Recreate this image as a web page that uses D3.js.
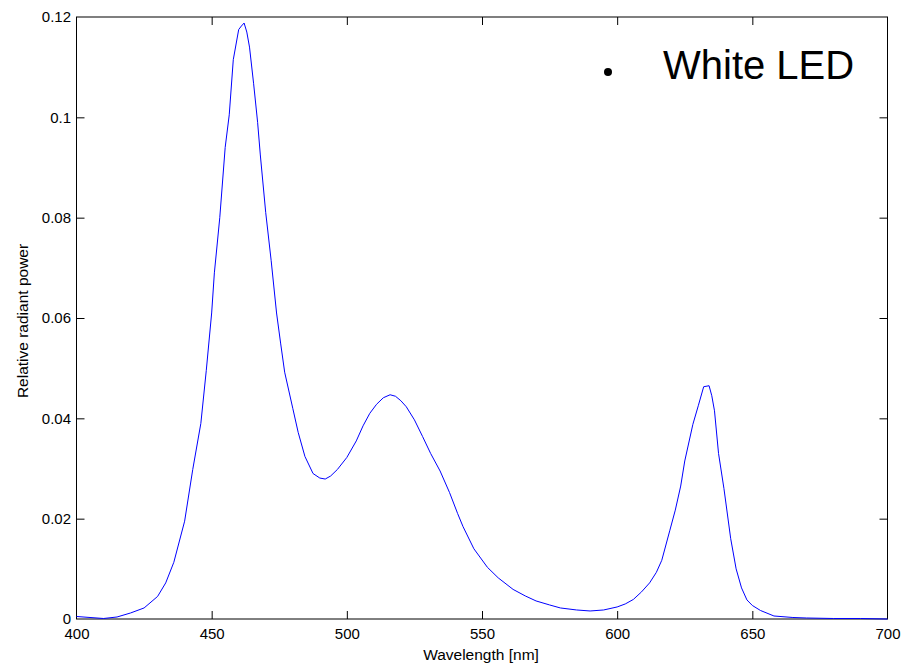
<!DOCTYPE html>
<html>
<head>
<meta charset="utf-8">
<script src="https://cdn.jsdelivr.net/npm/d3@7"></script>
<style>
html,body{margin:0;padding:0;background:#fff;}
svg{display:block;}
text{font-family:"Liberation Sans",Arial,Helvetica,sans-serif;}
</style>
</head>
<body>
<script>
const wavelengths = [400,405,410,415,420,425,430,433,436,440,443,446,448,450,451,453,455,456.5,458,460,461,462,463,464,465.5,467,468,470,472,474,475.5,477,480,482,484.5,487.5,490,492,494,496.5,500,503.5,506,508.5,511,513.5,516,518,520,522,525,528,531,534.5,538,541,543,547,552,556,561.5,566,570,575,579,585,590,595,600,603,606,609,612,614.5,616.5,619.5,621.5,623.5,625,628,630,632,634,635,636,637.5,639.5,642,644,646,648,650,653,658,665,670,680,690,700];
const power = [0.0005,0.0003,0.0001,0.0004,0.0012,0.0022,0.0045,0.0072,0.0113,0.0195,0.0298,0.0390,0.0495,0.0610,0.0690,0.0800,0.0940,0.1005,0.1115,0.1175,0.1182,0.1188,0.1170,0.1140,0.1068,0.0990,0.0925,0.0810,0.0715,0.0610,0.0550,0.0492,0.0420,0.0372,0.0324,0.0290,0.0281,0.0279,0.0285,0.0298,0.0322,0.0355,0.0385,0.0410,0.0428,0.0441,0.0447,0.0444,0.0435,0.0423,0.0397,0.0364,0.0330,0.0295,0.0252,0.0210,0.0184,0.0140,0.0103,0.0082,0.0059,0.0046,0.0036,0.0028,0.0022,0.0018,0.0016,0.0018,0.0024,0.0030,0.0039,0.0054,0.0072,0.0093,0.0117,0.0177,0.0217,0.0265,0.0315,0.0388,0.0425,0.0463,0.0465,0.0445,0.0415,0.0330,0.0260,0.0160,0.0100,0.0062,0.0038,0.0027,0.0017,0.0006,0.0003,0.0002,0.0001,0.0001,0.0000];
const xTicks = [400,450,500,550,600,650,700];
const yTicks = [0,0.02,0.04,0.06,0.08,0.1,0.12];
const yTickLabels = ["0","0.02","0.04","0.06","0.08","0.1","0.12"];
const legendLabel = "White LED";
const xTitle = "Wavelength [nm]";
const yTitle = "Relative radiant power";

const W = 917, H = 667;
const m = {left:76.5, right:887.5, top:17, bottom:619};
const svg = d3.select("body").append("svg").attr("width",W).attr("height",H);

const x = d3.scaleLinear().domain([400,700]).range([m.left,m.right]);
const y = d3.scaleLinear().domain([0,0.12]).range([m.bottom,m.top]);

// plot box
svg.append("rect").attr("x",m.left).attr("y",m.top)
  .attr("width",m.right-m.left).attr("height",m.bottom-m.top)
  .attr("fill","none").attr("stroke","#000").attr("stroke-width",1);

const tl = 8;
const fmtY = d => yTickLabels[yTicks.indexOf(d)];

const gB = svg.append("g").attr("transform",`translate(0,${m.bottom})`)
  .call(d3.axisBottom(x).tickValues(xTicks).tickSizeInner(-tl).tickSizeOuter(0).tickPadding(9).tickFormat(d3.format("d")));
const gT = svg.append("g").attr("transform",`translate(0,${m.top})`)
  .call(d3.axisTop(x).tickValues(xTicks).tickSizeInner(-tl).tickSizeOuter(0).tickFormat(""));
const gL = svg.append("g").attr("transform",`translate(${m.left},0)`)
  .call(d3.axisLeft(y).tickValues(yTicks).tickSizeInner(-tl).tickSizeOuter(0).tickPadding(5.5).tickFormat(fmtY));
const gR = svg.append("g").attr("transform",`translate(${m.right},0)`)
  .call(d3.axisRight(y).tickValues(yTicks).tickSizeInner(-tl).tickSizeOuter(0).tickFormat(""));

[gB,gT,gL,gR].forEach(g=>{
  g.select(".domain").remove();
  g.selectAll(".tick line").attr("stroke","#000");
  g.selectAll("text").attr("font-size",15).attr("fill","#000")
   .style("font-family",'"Liberation Sans",Arial,sans-serif');
});
gB.selectAll(".tick").filter(d=>d===400||d===700).select("line").remove();
gT.selectAll(".tick").filter(d=>d===400||d===700).select("line").remove();
gL.selectAll(".tick").filter(d=>d===0||d===0.12).select("line").remove();
gR.selectAll(".tick").filter(d=>d===0||d===0.12).select("line").remove();

const data = wavelengths.map((w,i)=>({w, v:power[i]}));
svg.append("path").datum(data)
  .attr("fill","none").attr("stroke","#0000ff").attr("stroke-width",1)
  .attr("d", d3.line().x(d=>x(d.w)).y(d=>y(d.v)));

svg.append("text").attr("x",481).attr("y",660)
  .attr("text-anchor","middle").attr("font-size",15.5).text(xTitle);
svg.append("text").attr("transform",`translate(28,${(m.top+m.bottom)/2+3}) rotate(-90)`)
  .attr("text-anchor","middle").attr("font-size",15.5).text(yTitle);

svg.append("circle").attr("cx",608).attr("cy",72).attr("r",4).attr("fill","#000");
svg.append("text").attr("x",663).attr("y",79).attr("font-size",40).attr("fill","#000").text(legendLabel);
</script>
</body>
</html>
